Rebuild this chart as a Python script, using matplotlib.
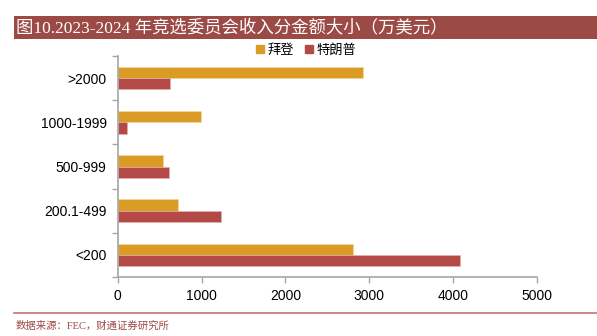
import numpy as np
import matplotlib
matplotlib.use("Agg")
import matplotlib.pyplot as plt
from matplotlib.patches import Rectangle
from matplotlib.lines import Line2D

plt.rcParams['font.family'] = ['Noto Sans CJK SC', 'DejaVu Sans']

categories = ["<200", "200.1-499", "500-999", "1000-1999", ">2000"]
biden = [2808, 720, 541, 990, 2924]
trump = [4086, 1233, 608, 107, 624]
series_names = ["拜登", "特朗普"]
xticks = [0, 1000, 2000, 3000, 4000, 5000]

GOLD = "#DA9C24"
RED = "#B44A47"
BANNER = "#9C4A46"
AXIS = "#A6A6A6"

fig = plt.figure(figsize=(5.97, 3.36), dpi=100)
ax = fig.add_axes([0.1972, 0.1756, 0.7018, 0.6577])

y = np.arange(len(categories))
h = 0.257
ax.barh(y + h / 2, biden, height=h, color=GOLD, edgecolor="#F0D9A8", linewidth=0.4, label=series_names[0])
ax.barh(y - h / 2, trump, height=h, color=RED, edgecolor="#E6B4B2", linewidth=0.4, label=series_names[1])

ax.set_xlim(0, 5000)
ax.set_ylim(-0.5, len(categories) - 0.5)
ax.set_xticks(xticks)
ax.set_xticklabels([str(v) for v in xticks], fontsize=10, family="Liberation Sans")
ax.set_yticks(y)
ax.set_yticklabels(categories, fontsize=10, family="Liberation Sans")
ax.set_yticks(np.arange(-0.5, len(categories), 1.0), minor=True)
ax.tick_params(axis="y", which="major", length=0, pad=8)
ax.tick_params(axis="y", which="minor", length=4, width=1, color=AXIS, direction="out")
ax.tick_params(axis="x", length=4, width=1, color=AXIS, direction="out", pad=5)

for side in ["top", "right"]:
    ax.spines[side].set_visible(False)
for side in ["left", "bottom"]:
    ax.spines[side].set_color(AXIS)
    ax.spines[side].set_linewidth(1.2)

# title banner
fig.patches.append(Rectangle((14 / 597, 1 - 38.5 / 336), 1 - 14 / 597, 22.5 / 336,
                             transform=fig.transFigure, facecolor=BANNER, edgecolor="none"))
fig.text(16 / 597, 1 - 27.5 / 336, "图10.2023-2024 年竞选委员会收入分金额大小（万美元）",
         color="white", fontsize=12.5, va="center", ha="left",
         family=["Liberation Serif", "Noto Sans CJK SC"])

# legend
handles = [Rectangle((0, 0), 1, 1, color=GOLD), Rectangle((0, 0), 1, 1, color=RED)]
fig.legend(handles, series_names, loc="center", bbox_to_anchor=(306 / 597, 1 - 50 / 336),
           ncol=2, frameon=False, fontsize=9.5, handlelength=0.6, handleheight=0.6,
           handletextpad=0.3, columnspacing=0.8)

# footer rule and source
fig.add_artist(Line2D([14 / 597, 1], [1 - 313 / 336, 1 - 313 / 336], transform=fig.transFigure,
                      color="#C07572", linewidth=1.2))
fig.text(16 / 597, 1 - 326 / 336, "数据来源：FEC，财通证券研究所", color="#9C4A46",
         fontsize=7.5, va="center", ha="left", family=["Liberation Serif", "Noto Sans CJK SC"])

fig.savefig("out.png", dpi=100)
